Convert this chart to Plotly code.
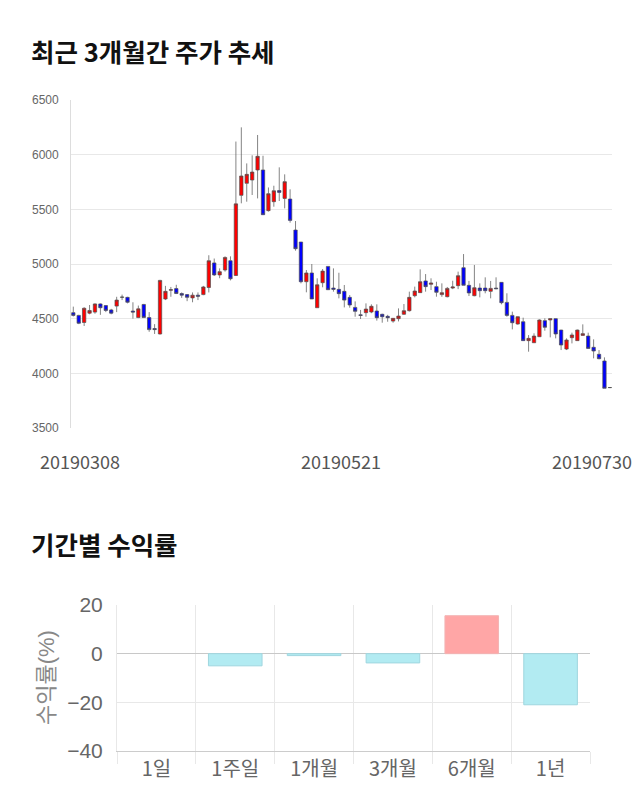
import plotly.graph_objects as go

# ---- data -------------------------------------------------------------
dates = [
    "20190308",
    "20190311", "20190312", "20190313", "20190314", "20190315",
    "20190318", "20190319", "20190320", "20190321", "20190322",
    "20190325", "20190326", "20190327", "20190328", "20190329",
    "20190401", "20190402", "20190403", "20190404", "20190405",
    "20190408", "20190409", "20190410", "20190411", "20190412",
    "20190415", "20190416", "20190417", "20190418", "20190419",
    "20190422", "20190423", "20190424", "20190425", "20190426",
    "20190429", "20190430",
    "20190502", "20190503",
    "20190507", "20190508", "20190509", "20190510",
    "20190513", "20190514", "20190515", "20190516", "20190517",
    "20190520", "20190521", "20190522", "20190523", "20190524",
    "20190527", "20190528", "20190529", "20190530", "20190531",
    "20190603", "20190604", "20190605", "20190607",
    "20190610", "20190611", "20190612", "20190613", "20190614",
    "20190617", "20190618", "20190619", "20190620", "20190621",
    "20190624", "20190625", "20190626", "20190627", "20190628",
    "20190701", "20190702", "20190703", "20190704", "20190705",
    "20190708", "20190709", "20190710", "20190711", "20190712",
    "20190715", "20190716", "20190717", "20190718", "20190719",
    "20190722", "20190723", "20190724", "20190725", "20190726",
    "20190729", "20190730",
]

opens = [4555, 4530, 4465, 4550, 4560, 4635, 4620, 4580, 4615, 4695,
         4695, 4570, 4510, 4630, 4510, 4410, 4360, 4680, 4760, 4775,
         4730, 4720, 4690, 4715, 4720, 4785, 5010, 4900, 4945, 5030,
         4895, 5628, 5738, 5768, 5860, 5860, 5488, 5570, 5672, 5600,
         5594, 5311, 5201, 4838, 4918, 4600, 4829, 4978, 4780, 4768,
         4750, 4695, 4603, 4535, 4555, 4561, 4570, 4540, 4521, 4478,
         4500, 4540, 4573, 4710, 4738, 4845, 4814, 4793, 4720, 4701,
         4780, 4802, 4966, 4805, 4710, 4780, 4780, 4750, 4780, 4832,
         4649, 4530, 4451, 4472, 4299, 4280, 4335, 4482, 4488, 4500,
         4396, 4222, 4326, 4299, 4347, 4341, 4238, 4174, 4113, 3870]
highs = [4610, 4535, 4605, 4625, 4640, 4640, 4625, 4590, 4700, 4720,
         4700, 4650, 4620, 4635, 4560, 4450, 4855, 4800, 4790, 4810,
         4740, 4725, 4740, 4740, 4800, 5080, 5050, 4960, 5070, 5070,
         6120, 6250, 5920, 5994, 6180, 5990, 5700, 5716, 5884, 5820,
         5683, 5393, 5201, 4945, 5000, 4869, 4954, 4978, 4960, 4920,
         4808, 4716, 4658, 4580, 4640, 4631, 4631, 4545, 4535, 4505,
         4594, 4634, 4747, 4793, 4951, 4908, 4869, 4838, 4823, 4790,
         4847, 4930, 5091, 4845, 4991, 4823, 4878, 4845, 4878, 4835,
         4732, 4564, 4520, 4509, 4350, 4366, 4494, 4503, 4500, 4502,
         4398, 4320, 4372, 4400, 4448, 4372, 4311, 4213, 4146, 3870]
lows = [4520, 4450, 4433, 4540, 4545, 4535, 4560, 4540, 4560, 4670,
        4640, 4500, 4505, 4510, 4380, 4360, 4355, 4670, 4700, 4725,
        4690, 4660, 4650, 4670, 4715, 4740, 4890, 4870, 4930, 4850,
        4890, 5555, 5570, 5631, 5600, 5450, 5479, 5524, 5576, 5509,
        5378, 5122, 4823, 4741, 4680, 4600, 4787, 4765, 4747, 4686,
        4603, 4600, 4518, 4497, 4518, 4550, 4482, 4463, 4472, 4463,
        4475, 4535, 4565, 4695, 4735, 4747, 4762, 4701, 4700, 4695,
        4770, 4770, 4805, 4707, 4705, 4695, 4732, 4686, 4770, 4631,
        4518, 4402, 4445, 4299, 4198, 4278, 4333, 4390, 4329, 4320,
        4213, 4213, 4274, 4297, 4345, 4226, 4137, 4128, 3863, 3870]
closes = [4530, 4458, 4595, 4575, 4635, 4600, 4575, 4550, 4670, 4697,
          4650, 4560, 4590, 4510, 4400, 4400, 4850, 4750, 4765, 4730,
          4715, 4695, 4715, 4705, 4790, 5030, 4900, 4930, 5060, 4865,
          5550, 5805, 5820, 5841, 5985, 5451, 5643, 5670, 5655, 5753,
          5399, 5140, 4838, 4918, 4680, 4810, 4935, 4765, 4768, 4729,
          4670, 4625, 4567, 4530, 4588, 4613, 4509, 4518, 4509, 4503,
          4524, 4573, 4695, 4753, 4838, 4793, 4826, 4741, 4738, 4777,
          4790, 4893, 4805, 4735, 4783, 4756, 4756, 4777, 4774, 4646,
          4530, 4463, 4518, 4299, 4320, 4341, 4488, 4421, 4500, 4360,
          4259, 4305, 4351, 4396, 4363, 4228, 4204, 4134, 3863, 3870]

price_ticks = [3500, 4000, 4500, 5000, 5500, 6000, 6500]
date_labels = ["20190308", "20190521", "20190730"]

periods = ["1일", "1주일", "1개월", "3개월", "6개월", "1년"]
returns = [0.0, -5.0, -0.8, -3.8, 15.6, -21.0]
return_ticks = [-40, -20, 0, 20]

# ---- figure -----------------------------------------------------------
W, H = 640, 810
def px(x):
    return x / W
def py(y):
    return (H - y) / H

fig = go.Figure()

fig.add_trace(go.Candlestick(
    x=dates, open=opens, high=highs, low=lows, close=closes,
    increasing=dict(fillcolor="#ff0000", line=dict(color="rgba(80,80,80,0.7)", width=1)),
    decreasing=dict(fillcolor="#0000ff", line=dict(color="rgba(80,80,80,0.7)", width=1)),
    whiskerwidth=0, showlegend=False, hoverinfo="skip",
    xaxis="x", yaxis="y",
))

bar_fill = ["#ffa6a6" if v > 0 else "#b2ebf2" for v in returns]
bar_line = ["#f3b3b3" if v > 0 else ("#9fd6df" if v < 0 else "rgba(0,0,0,0)") for v in returns]
fig.add_trace(go.Bar(
    x=periods, y=returns,
    marker=dict(color=bar_fill, line=dict(color=bar_line, width=1)),
    showlegend=False, hoverinfo="skip",
    xaxis="x2", yaxis="y2",
))

grid = "#e8e8e8"
font_kr = "Noto Sans CJK KR"
font_num = "Liberation Sans, Noto Sans CJK KR"

n = len(dates)
spacing = 5.42
x0 = 73.3
fig.update_layout(
    template="none",
    width=W, height=H,
    margin=dict(l=0, r=0, t=0, b=0, autoexpand=False),
    paper_bgcolor="white", plot_bgcolor="white",
    boxgap=0.12,
    bargap=0.32,
    xaxis=dict(
        domain=[px(x0 - 0.4 * spacing), px(x0 + (n - 1 + 0.4) * spacing)],
        type="category", range=[-0.4, n - 1 + 0.4], automargin=False,
        showticklabels=False, showgrid=False, zeroline=False, showline=False,
        ticks="", rangeslider=dict(visible=False), anchor="y",
    ),
    yaxis=dict(
        domain=[py(428), py(100)], range=[3500, 6500], automargin=False,
        tickvals=price_ticks, ticks="", showgrid=True, gridcolor=grid,
        zeroline=False, showline=True, linecolor="#dddddd", linewidth=1,
        tickfont=dict(family=font_num, size=12, color="#666666"),
        ticklabelstandoff=9, anchor="x",
    ),
    xaxis2=dict(
        domain=[px(117), px(590)], type="category", anchor="y2", automargin=False,
        tickson="boundaries", showgrid=True, gridcolor=grid, gridwidth=1,
        ticks="outside", ticklen=12, tickcolor=grid,
        showline=True, linecolor="#cccccc", zeroline=False,
        tickfont=dict(family=font_kr, size=20, color="#666666"),
    ),
    yaxis2=dict(
        domain=[py(751), py(605)], range=[-40, 20], tickvals=return_ticks,
        automargin=False,
        showgrid=True, gridcolor=grid, zeroline=True, zerolinecolor="#c8c8c8",
        zerolinewidth=1, showline=True, linecolor=grid, ticks="",
        tickfont=dict(family=font_num, size=21, color="#666666"),
        ticklabelstandoff=9, anchor="x2",
    ),
)

annotations = [
    dict(text="<b>최근 3개월간 주가 추세</b>", x=px(29), y=py(50), xref="paper", yref="paper",
         xanchor="left", yanchor="middle", showarrow=False,
         font=dict(family=font_kr, size=25.5, color="#111111")),
    dict(text="<b>기간별 수익률</b>", x=px(29), y=py(543), xref="paper", yref="paper",
         xanchor="left", yanchor="middle", showarrow=False,
         font=dict(family=font_kr, size=25.5, color="#111111")),
    dict(text="수익률(%)", x=px(46), y=py(678), xref="paper", yref="paper",
         xanchor="center", yanchor="middle", textangle=-90, showarrow=False,
         font=dict(family=font_num, size=22, color="#888888")),
]
shifts = [7, -3, -18]
for lab, sh in zip(date_labels, shifts):
    annotations.append(dict(
        text=lab, x=dates.index(lab), y=py(461), xref="x", yref="paper",
        xanchor="center", yanchor="middle", xshift=sh, showarrow=False,
        font=dict(family=font_kr, size=18, color="#555555"),
    ))
fig.update_layout(annotations=annotations)

fig.write_html("out.html")
